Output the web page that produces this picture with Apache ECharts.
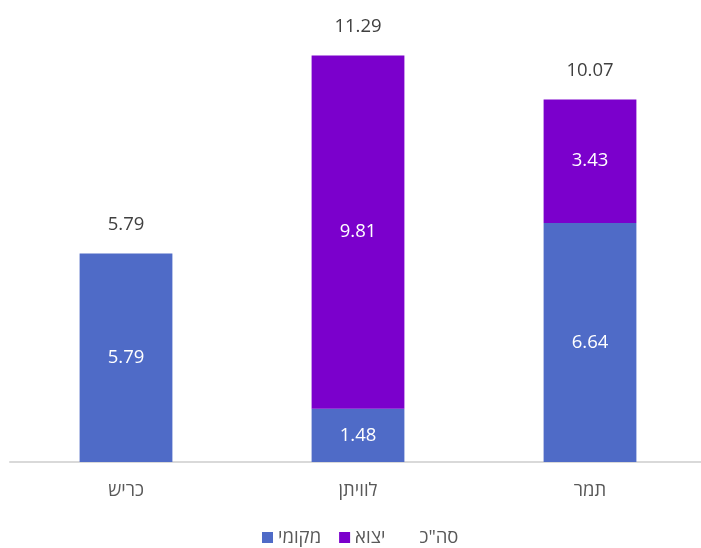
<!DOCTYPE html>
<html><head><meta charset="utf-8">
<script src="https://cdn.jsdelivr.net/npm/echarts@6/dist/echarts.min.js"></script>
<style>html,body{margin:0;padding:0;background:#fff}#c{width:701px;height:548px}</style>
</head><body><div id="c"></div>
<script>
const categories = ['כריש', 'לוויתן', 'תמר'];
const localVals = [5.79, 1.48, 6.64];
const exportVals = [0, 9.81, 3.43];
const totalVals = [5.79, 11.29, 10.07];
const seriesNames = ['מקומי', 'יצוא', 'סה"כ'];

const FONT = '"Open Sans", sans-serif';
const FS = 18.5;
const chart = echarts.init(document.getElementById('c'));
chart.setOption({
  animation: false,
  grid: { left: 10, top: 30, width: 696, height: 432, outerBoundsMode: 'none', containLabel: false },
  legend: {
    top: 523,
    left: 257,
    padding: 5,
    itemWidth: 11, itemHeight: 11, itemGap: 18,
    textStyle: { fontFamily: FONT, fontSize: FS, color: '#595959' },
    data: [
      { name: seriesNames[0], icon: 'rect' },
      { name: seriesNames[1], icon: 'rect' },
      { name: seriesNames[2], icon: 'rect', itemStyle: { color: 'rgba(0,0,0,0)' } }
    ]
  },
  xAxis: {
    type: 'category', data: categories,
    axisLine: { lineStyle: { color: '#d9d9d9', width: 2 } },
    axisTick: { show: false },
    axisLabel: { fontFamily: FONT, fontSize: FS, color: '#595959', margin: 19 }
  },
  yAxis: { type: 'value', min: 0, max: 12, show: false, splitLine: { show: false } },
  series: [
    {
      name: seriesNames[0], type: 'bar', stack: 's', barWidth: '40%',
      data: localVals, itemStyle: { color: '#4F6BC7' },
      label: { show: true, position: 'inside', color: '#fff', fontFamily: FONT, fontSize: FS,
        formatter: p => p.value ? p.value.toFixed(2) : '' }
    },
    {
      name: seriesNames[1], type: 'bar', stack: 's', barWidth: '40%',
      data: exportVals, itemStyle: { color: '#7B00CC' },
      label: { show: true, position: 'inside', color: '#fff', fontFamily: FONT, fontSize: FS,
        formatter: p => p.value ? p.value.toFixed(2) : '' }
    },
    {
      name: seriesNames[2], type: 'bar', barGap: '-100%', barWidth: '40%',
      data: totalVals, itemStyle: { color: 'rgba(0,0,0,0)' }, z: 10,
      label: { show: true, position: 'top', distance: 19, color: '#404040', fontFamily: FONT, fontSize: FS,
        formatter: p => p.value.toFixed(2) }
    }
  ]
});
</script></body></html>
